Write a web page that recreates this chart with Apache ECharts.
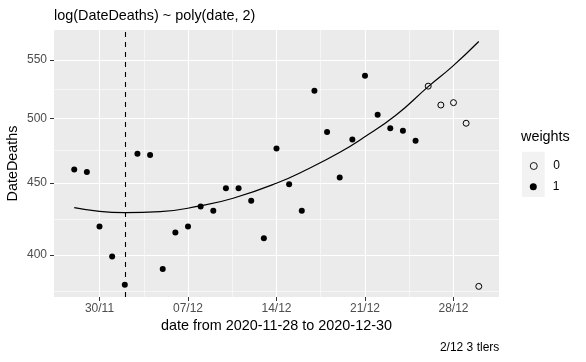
<!DOCTYPE html>
<html><head><meta charset="utf-8">
<script src="https://cdn.jsdelivr.net/npm/echarts@6/dist/echarts.min.js"></script>
<style>html,body{margin:0;padding:0;background:#fff}#c{width:586px;height:362px}</style>
</head><body><div id="c"></div>
<script>
// ---- data ----
const startDate = '2020-11-28';
const dates = ['2020-11-28','2020-11-29','2020-11-30','2020-12-01','2020-12-02','2020-12-03','2020-12-04','2020-12-05',
  '2020-12-06','2020-12-07','2020-12-08','2020-12-09','2020-12-10','2020-12-11','2020-12-12','2020-12-13',
  '2020-12-14','2020-12-15','2020-12-16','2020-12-17','2020-12-18','2020-12-19','2020-12-20','2020-12-21',
  '2020-12-22','2020-12-23','2020-12-24','2020-12-25','2020-12-26','2020-12-27','2020-12-28','2020-12-29','2020-12-30'];
const deaths = [460,458,419,399,381,472,471,391,415,419,433,430,446,446,437,411,
  476,449,430,523,489,454,483,536,503,492,490,482,527,511,513,496,380];
const weights = [1,1,1,1,1,1,1,1,1,1,1,1,1,1,1,1,1,1,1,1,1,1,1,1,1,1,1,1,0,0,0,0,0];
// fitted curve (day offset from startDate, value)
const curveDayOffsets = [0, 4, 6.8, 9.95, 12.57, 15.99, 18.61, 20.98, 22.81, 25.44, 28.0, 29.9, 32];
const curveValues = [432.1, 428.6, 429.3, 433.4, 438.8, 449.7, 460.9, 472.8, 484.0, 502.5, 526.6, 544.1, 566.9];
const vlineDate = '2020-12-02';
const xTickDates = ['2020-11-30','2020-12-07','2020-12-14','2020-12-21','2020-12-28'];
const xTickLabels = ['30/11','07/12','14/12','21/12','28/12'];
const yTicks = [400, 450, 500, 550];
const titleText = 'log(DateDeaths) ~ poly(date, 2)';
const xTitle = 'date from 2020-11-28 to 2020-12-30';
const yTitle = 'DateDeaths';
const captionText = '2/12 3 tlers';
const legendTitle = 'weights';

// ---- build ----
const DAY = 86400000;
const t0 = Date.parse(startDate + 'T00:00:00Z');
const dayOf = s => (Date.parse(s + 'T00:00:00Z') - t0) / DAY;
const xTickDays = xTickDates.map(dayOf);
const xMinor = xTickDays.slice(1).map((d, i) => (d + xTickDays[i]) / 2);
const yTickLogs = yTicks.map(Math.log);
const yMinor = yTickLogs.slice(1).map((v, i) => (v + yTickLogs[i]) / 2);
yMinor.unshift(yTickLogs[0] - (yTickLogs[1] - yTickLogs[0]) / 2);

const pts1 = [], pts0 = [];
dates.forEach((d, i) => {
  const p = [dayOf(d), Math.log(deaths[i])];
  (weights[i] === 1 ? pts1 : pts0).push(p);
});
const curve = curveDayOffsets.map((d, i) => [d, Math.log(curveValues[i])]);

const FONT = 'Liberation Sans, Arial, sans-serif';
const X0 = -1.6, X1 = 33.6, Y0 = 5.9228, Y1 = 6.3589;

const chart = echarts.init(document.getElementById('c'), null, {renderer: 'canvas'});
chart.setOption({
  animation: false,
  backgroundColor: '#fff',
  grid: {left: 54, top: 30, width: 445, height: 267, show: true, backgroundColor: '#ebebeb', borderWidth: 0, containLabel: false},
  xAxis: [{
    type: 'value', min: X0, max: X1, gridIndex: 0, position: 'bottom',
    axisLine: {show: false, onZero: false},
    axisTick: {show: true, length: 4, lineStyle: {color: '#333', width: 1}, customValues: xTickDays},
    axisLabel: {show: true, customValues: xTickDays, color: '#4d4d4d', fontSize: 12, fontFamily: FONT, margin: 6,
      formatter: v => { const k = xTickDays.findIndex(d => Math.abs(d - v) < 1e-6); return k >= 0 ? xTickLabels[k] : ''; }},
    splitLine: {show: true, lineStyle: {color: '#fff', width: 1.1}}
  }, {
    type: 'value', min: X0, max: X1, gridIndex: 0, position: 'top',
    axisLine: {show: false, onZero: false},
    axisTick: {show: false, customValues: xMinor},
    axisLabel: {show: false, customValues: xMinor},
    splitLine: {show: true, lineStyle: {color: '#fff', width: 0.55}}
  }],
  yAxis: [{
    type: 'value', min: Y0, max: Y1, gridIndex: 0, position: 'left',
    axisLine: {show: false, onZero: false},
    axisTick: {show: true, length: 4, lineStyle: {color: '#333', width: 1}, customValues: yTickLogs},
    axisLabel: {show: true, customValues: yTickLogs, color: '#4d4d4d', fontSize: 12, fontFamily: FONT, margin: 7,
      formatter: v => String(Math.round(Math.exp(v)))},
    splitLine: {show: true, lineStyle: {color: '#fff', width: 1.1}}
  }, {
    type: 'value', min: Y0, max: Y1, gridIndex: 0, position: 'right',
    axisLine: {show: false, onZero: false},
    axisTick: {show: false, customValues: yMinor},
    axisLabel: {show: false, customValues: yMinor},
    splitLine: {show: true, lineStyle: {color: '#fff', width: 0.55}}
  }],
  legend: [{
    data: ['0'], left: 529.8, top: 160, orient: 'vertical', padding: 0, itemGap: 0,
    itemWidth: 7, itemHeight: 7, selectedMode: false,
    itemStyle: {borderWidth: 0.9, opacity: 1},
    textStyle: {fontSize: 12, color: '#000', fontFamily: FONT, lineHeight: 12, padding: [0, 0, 0, 11]}
  }, {
    data: ['1'], left: 529.8, top: 180.7, orient: 'vertical', padding: 0, itemGap: 0,
    itemWidth: 7, itemHeight: 7, selectedMode: false,
    itemStyle: {opacity: 1},
    textStyle: {fontSize: 12, color: '#000', fontFamily: FONT, lineHeight: 12, padding: [0, 0, 0, 11]}
  }],
  graphic: [
    {type: 'rect', left: 522, top: 151.7, shape: {width: 22.7, height: 45.3}, style: {fill: '#f2f2f2'}, z: -1},
    {type: 'text', x: 54, y: 16.5, style: {text: titleText, fontSize: 14.4, fontFamily: FONT, fill: '#000', textAlign: 'left', textVerticalAlign: 'middle'}},
    {type: 'text', x: 276.5, y: 326.5, style: {text: xTitle, fontSize: 14.4, fontFamily: FONT, fill: '#000', textAlign: 'center', textVerticalAlign: 'middle'}},
    {type: 'text', x: 13.3, y: 163.5, rotation: Math.PI / 2, style: {text: yTitle, fontSize: 14.4, fontFamily: FONT, fill: '#000', textAlign: 'center', textVerticalAlign: 'middle'}},
    {type: 'text', x: 499.3, y: 347.8, style: {text: captionText, fontSize: 12, fontFamily: FONT, fill: '#000', textAlign: 'right', textVerticalAlign: 'middle'}},
    {type: 'text', x: 521, y: 137.5, style: {text: legendTitle, fontSize: 14.4, fontFamily: FONT, fill: '#000', textAlign: 'left', textVerticalAlign: 'middle'}}
  ],
  series: [{
    name: 'fit', type: 'line', data: curve, xAxisIndex: 0, yAxisIndex: 0,
    showSymbol: false, smooth: 0.5, lineStyle: {color: '#000', width: 1.2}, z: 2, silent: true,
    markLine: {silent: true, symbol: ['none', 'none'], label: {show: false},
      lineStyle: {color: '#000', width: 1.1, type: [5, 5]},
      data: [{xAxis: dayOf(vlineDate)}]}
  }, {
    name: '1', type: 'scatter', data: pts1, xAxisIndex: 0, yAxisIndex: 0,
    symbol: 'circle', symbolSize: 6, itemStyle: {color: '#000', opacity: 1}, z: 3
  }, {
    name: '0', type: 'scatter', data: pts0, xAxisIndex: 0, yAxisIndex: 0,
    symbol: 'circle', symbolSize: 6, itemStyle: {color: 'rgba(0,0,0,0)', borderColor: '#000', borderWidth: 1, opacity: 1}, z: 3
  }]
});
</script></body></html>
